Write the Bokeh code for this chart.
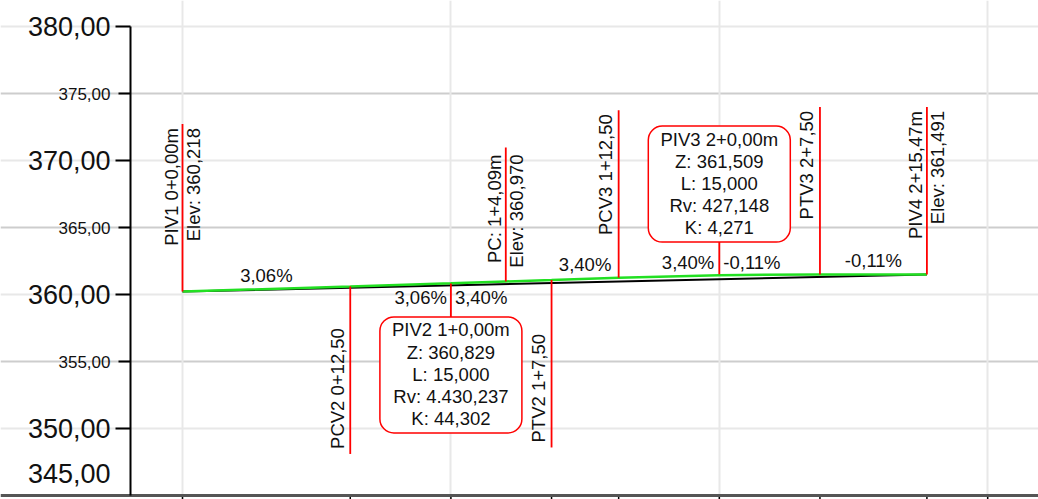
import math
from bokeh.plotting import figure
from bokeh.models import Range1d, FixedTicker, Label, ColumnDataSource, Grid
from bokeh.embed import file_html
from bokeh.resources import INLINE

# ---------------- data ----------------
piv_names = ["PIV1", "PIV2", "PIV3", "PIV4"]
piv_station = [0.0, 20.0, 40.0, 55.47]
piv_station_text = ["0+0,00m", "1+0,00m", "2+0,00m", "2+15,47m"]
piv_elev = [360.218, 360.829, 361.509, 361.491]
piv_elev_text = ["360,218", "360,829", "361,509", "361,491"]

curve_piv_index = [1, 2]
curve_L_text = ["15,000", "15,000"]
curve_Rv_text = ["4.430,237", "427,148"]
curve_K_text = ["44,302", "4,271"]

tp_names = ["PCV2", "PTV2", "PCV3", "PTV3"]
tp_station = [12.5, 27.5, 32.5, 47.5]
tp_station_text = ["0+12,50", "1+7,50", "1+12,50", "2+7,50"]
tp_elev = [360.600, 361.084, 361.254, 361.500]

pc_station = 24.09
pc_elev = 360.970
pc_station_text = "1+4,09m"
pc_elev_text = "360,970"

grade_text = ["3,06%", "3,40%", "-0,11%"]

profile_station = [0.0, 12.5, 20.0, 24.09, 27.5, 32.5, 40.0, 47.5, 55.47]
profile_elev = [360.218, 360.600, 360.835, 360.970, 361.084, 361.254, 361.443, 361.500, 361.491]

ground_station = [0.0, 55.47]
ground_elev = [360.218, 361.491]

y_major = [350, 360, 370, 380]
y_minor = [355, 365, 375]
y_bottom = 345
x_major = [0, 20, 40, 60]

# ---------------- style / layout ----------------
FONT = "Liberation Sans"
TXT = "#111111"
RED = "#ff0000"
GREEN = "#22e022"
FS = "18.5px"
LH = 1.05
MARK_LEN = 12.5
PC_LEN = 10.0
BOX_GAP_BELOW = 2.5
BOX_GAP_ABOVE = 2.4
BOX_W, BOX_H = 142, 116
BOX_FIRST = 13
BOX_STEP = 22.2

W, H = 1038, 499
SX = 13.42   # px per metre (x)
SY = 13.4    # px per metre (y)
X_START = -182 / SX
X_END = X_START + W / SX
Y_END = 380 + 26 / SY
Y_START = Y_END - H / SY
AXIS_X = X_START + 130 / SX

p = figure(width=W, height=H, x_range=Range1d(X_START, X_END), y_range=Range1d(Y_START, Y_END),
           output_backend="svg", toolbar_location=None,
           x_axis_location=None, y_axis_location=None,
           min_border=0)
p.outline_line_color = None
p.background_fill_color = "white"
for g in p.grid:
    g.visible = False

ygrid = Grid(dimension=1, ticker=FixedTicker(ticks=y_major, minor_ticks=y_minor),
             bounds=(AXIS_X, X_END), grid_line_color="#e8e8e8", grid_line_width=2,
             minor_grid_line_color="#cdcdcd", minor_grid_line_width=2)
xgrid = Grid(dimension=0, ticker=FixedTicker(ticks=x_major), bounds=(y_bottom, y_major[-1]),
             grid_line_color="#e8e8e8", grid_line_width=2)
p.add_layout(ygrid, "center")
p.add_layout(xgrid, "center")

# manual x axis (line + ticks)
x_ticks = x_major + tp_station + [piv_station[-1]]
p.segment(x0=x_ticks, y0=[y_bottom] * len(x_ticks), x1=x_ticks, y1=[Y_START] * len(x_ticks),
          line_color="black", line_width=1.5)
p.segment(x0=[X_START], y0=[y_bottom], x1=[X_END], y1=[y_bottom], line_color="#555555", line_width=3)

# manual y axis (line + ticks + labels)
p.segment(x0=[AXIS_X], y0=[y_bottom], x1=[AXIS_X], y1=[y_major[-1]], line_color="black", line_width=2)
p.segment(x0=[AXIS_X - 15 / SX] * len(y_major), y0=y_major, x1=[AXIS_X] * len(y_major), y1=y_major,
          line_color="black", line_width=2)
p.segment(x0=[AXIS_X - 12 / SX] * len(y_minor), y0=y_minor, x1=[AXIS_X] * len(y_minor), y1=y_minor,
          line_color="black", line_width=2)

def fmt(v):
    return f"{v:.2f}".replace(".", ",")

for v in y_major:
    p.add_layout(Label(x=AXIS_X, y=v, text=fmt(v), x_offset=-20, text_align="right",
                       text_baseline="middle", text_font=FONT, text_font_size="27px",
                       text_color=TXT))
for v in y_minor:
    p.add_layout(Label(x=AXIS_X, y=v, text=fmt(v), x_offset=-20, text_align="right",
                       text_baseline="middle", text_font=FONT, text_font_size="17px",
                       text_color=TXT))
p.add_layout(Label(x=AXIS_X, y=y_bottom, text=fmt(y_bottom), x_offset=-20, y_offset=22,
                   text_align="right", text_baseline="middle", text_font=FONT,
                   text_font_size="27px", text_color=TXT))

# profile lines
p.line(ground_station, ground_elev, line_color="black", line_width=2)
p.line(profile_station, profile_elev, line_color=GREEN, line_width=2.5)

# red marker segments
sx, sy0, sy1 = [], [], []
for i in (0, 3):
    sx.append(piv_station[i]); sy0.append(piv_elev[i]); sy1.append(piv_elev[i] + MARK_LEN)
sx.append(piv_station[1]); sy0.append(piv_elev[1]); sy1.append(piv_elev[1] - BOX_GAP_BELOW)
sx.append(piv_station[2]); sy0.append(piv_elev[2]); sy1.append(piv_elev[2] + BOX_GAP_ABOVE)
tp_dir = [-1, -1, 1, 1]
for s, e, d in zip(tp_station, tp_elev, tp_dir):
    sx.append(s); sy0.append(e); sy1.append(e + d * MARK_LEN)
sx.append(pc_station); sy0.append(pc_elev); sy1.append(pc_elev + PC_LEN)
seg = ColumnDataSource(dict(x=sx, y0=sy0, y1=sy1))
p.segment(x0="x", y0="y0", x1="x", y1="y1", source=seg, line_color=RED, line_width=1.8)

def vlabel(x, y, text, align, yoff, xoff=0):
    p.add_layout(Label(x=x, y=y, text=text, angle=math.pi / 2, text_align=align,
                       text_baseline="middle", x_offset=xoff, y_offset=yoff,
                       text_font=FONT, text_font_size=FS, text_color=TXT,
                       text_line_height=LH))

for i in (0, 3):
    vlabel(piv_station[i], piv_elev[i] + MARK_LEN,
           f"{piv_names[i]} {piv_station_text[i]}\nElev: {piv_elev_text[i]}", "right", -4)
vlabel(pc_station, pc_elev + PC_LEN, f"PC: {pc_station_text}\nElev: {pc_elev_text}", "right", -7)
for n, s, st, e, d in zip(tp_names, tp_station, tp_station_text, tp_elev, tp_dir):
    if d < 0:
        vlabel(s, e - MARK_LEN, f"{n} {st}", "left", 5, -13)
    else:
        vlabel(s, e + MARK_LEN, f"{n} {st}", "right", -4, -13)

# curve boxes (rounded rectangles + centred lines of text)
box_x, box_y, box_top = [], [], []
for k, i in enumerate(curve_piv_index):
    below = (k == 0)
    if below:
        top = piv_elev[i] - BOX_GAP_BELOW
    else:
        top = piv_elev[i] + BOX_GAP_ABOVE + BOX_H / SY
    box_x.append(piv_station[i])
    box_top.append(top)
    box_y.append(top - BOX_H / 2 / SY)
p.rect(x=box_x, y=box_y, width=BOX_W, height=BOX_H, width_units="screen", height_units="screen",
       fill_color="white", line_color=RED, line_width=1.5, border_radius=14)

for k, i in enumerate(curve_piv_index):
    lines = [f"{piv_names[i]} {piv_station_text[i]}", f"Z: {piv_elev_text[i]}",
             f"L: {curve_L_text[k]}", f"Rv: {curve_Rv_text[k]}", f"K: {curve_K_text[k]}"]
    for j, t in enumerate(lines):
        p.add_layout(Label(x=box_x[k], y=box_top[k], text=t, text_align="center",
                           text_baseline="middle", y_offset=-(BOX_FIRST + j * BOX_STEP),
                           text_font=FONT, text_font_size=FS, text_color=TXT))

# grade labels
def hlabel(x, y, text, align, xoff, yoff):
    p.add_layout(Label(x=x, y=y, text=text, text_align=align, text_baseline="middle",
                       x_offset=xoff, y_offset=yoff, text_font=FONT, text_font_size=FS,
                       text_color=TXT))

tan_start = [piv_station[0], tp_station[1], tp_station[3]]
tan_end = [tp_station[0], tp_station[2], piv_station[3]]
tan_start_e = [piv_elev[0], tp_elev[1], tp_elev[3]]
tan_end_e = [tp_elev[0], tp_elev[2], piv_elev[3]]
for g, a, b, ea, eb in zip(grade_text, tan_start, tan_end, tan_start_e, tan_end_e):
    hlabel((a + b) / 2, (ea + eb) / 2, g, "center", 0, 14)
hlabel(piv_station[1], piv_elev[1], grade_text[0], "right", -4, -14)
hlabel(piv_station[1], piv_elev[1], grade_text[1], "left", 4, -14)
hlabel(piv_station[2], piv_elev[2], grade_text[1], "right", -5, 12)
hlabel(piv_station[2], piv_elev[2], grade_text[2], "left", 4, 12)

open("out.html", "w").write(file_html(p, INLINE))
